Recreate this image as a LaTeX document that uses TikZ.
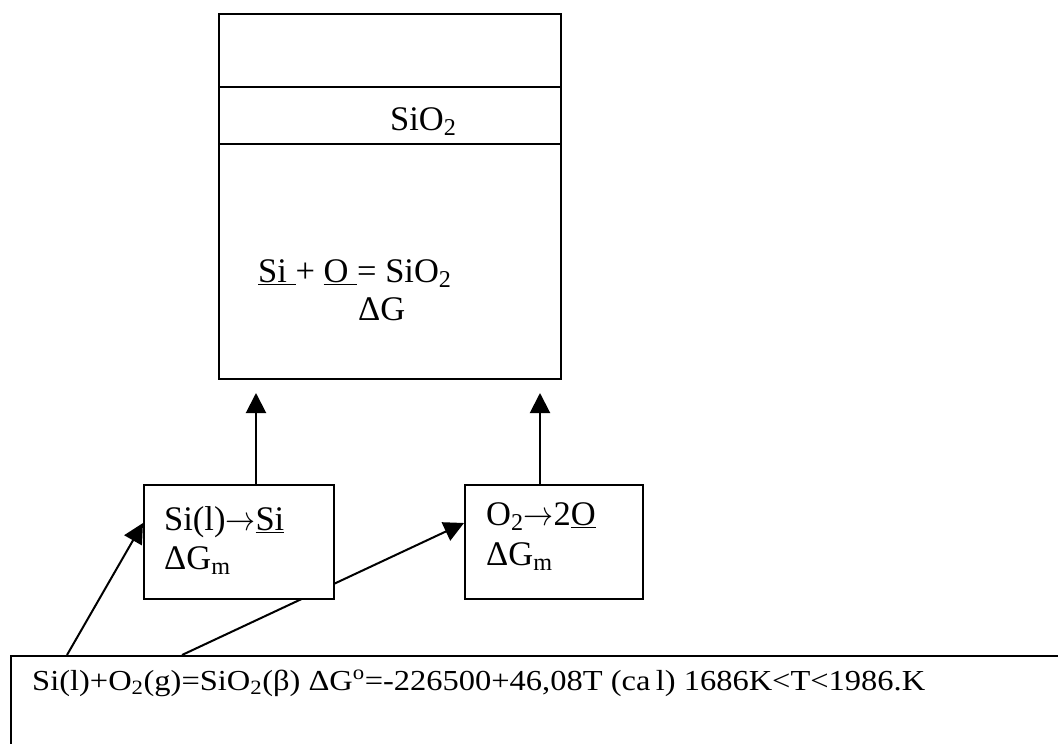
\RequirePackage{fix-cm}
\documentclass[tikz,border=0pt]{standalone}
\usepackage{fontspec}
\setmainfont{Liberation Serif}
\usetikzlibrary{arrows.meta}
\pgfdeclarelayer{bg}
\pgfsetlayers{bg,main}
\newcommand{\rarr}{\scalebox{0.87}[1]{$\rightarrow$}}
\begin{document}
\begin{tikzpicture}[x=1pt,y=-1pt,
  box/.style={draw,line width=2pt,fill=white,inner sep=0pt,anchor=north west},
  lbl/.style={anchor=base west,inner sep=0pt,font=\fontsize{34.5}{40}\selectfont},
  smalllbl/.style={anchor=base west,inner sep=0pt,font=\fontsize{29}{34}\selectfont},
  arr/.style={line width=2pt,-{Triangle[length=20pt,width=20pt]}}]
\useasboundingbox (0,0) rectangle (1058,744);
% boxes
\node[box,minimum width=342pt,minimum height=365pt] (big) at (218,13) {};
\draw[line width=2pt] (big.west |- 0,87) -- (big.east |- 0,87);
\draw[line width=2pt] (big.west |- 0,144) -- (big.east |- 0,144);
\node[box,minimum width=190pt,minimum height=114pt] (si) at (143,484) {};
\node[box,minimum width=178pt,minimum height=114pt] (o2) at (464,484) {};
\node[box,minimum width=1049pt,minimum height=90pt] (bot) at (10,655) {};
% texts
\node[lbl] (tsio2) at (390,130) {SiO\textsubscript{2}};
\node[lbl] (teq) at (258,282) {\underline{Si\ }+ \underline{O\ }= SiO\textsubscript{2}};
\node[lbl] (tdg) at (358,320) {ΔG};
\node[lbl] (tsi1) at (164,530) {Si(l)\rarr\underline{Si}};
\node[lbl] (tsi2) at (164,569) {ΔG\textsubscript{m}};
\node[lbl] (to1) at (486,525) {O\textsubscript{2}\rarr2\underline{O}};
\node[lbl] (to2) at (486,565) {ΔG\textsubscript{m}};
\node[smalllbl] (tbot) at (32,690) {\scalebox{1.12}[1]{Si(l)+O\textsubscript{2}(g)=SiO\textsubscript{2}(β) ΔG\textsuperscript{o}=-226500+46,08T (ca\,l) 1686K<T<1986.K}};
% connectors
\begin{pgfonlayer}{bg}
\draw[arr] (bot.north -| 67,0) -- (si.west |- 0,523);
\draw[arr] (bot.north -| 182,0) -- (o2.west |- 0,523);
\end{pgfonlayer}
\draw[arr,shorten >=13pt] (si.north -| 256,0) -- (big.south -| 256,0);
\draw[arr,shorten >=13pt] (o2.north -| 540,0) -- (big.south -| 540,0);
\end{tikzpicture}
\end{document}
